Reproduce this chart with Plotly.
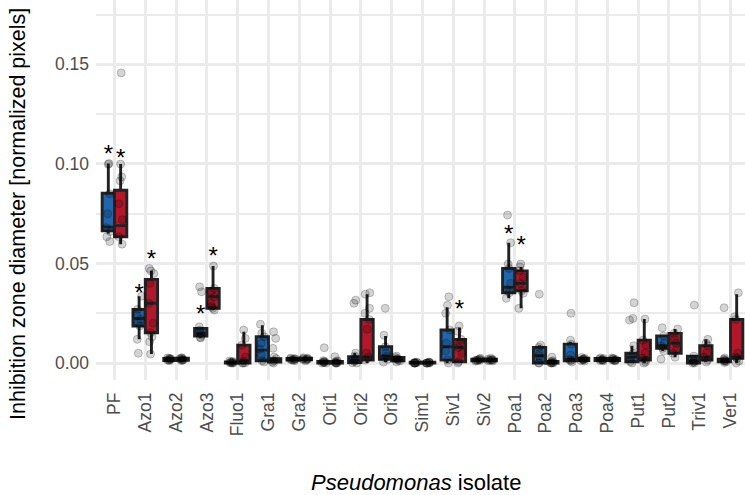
import plotly.graph_objects as go

isolates = ["PF", "Azo1", "Azo2", "Azo3", "Fluo1", "Gra1", "Gra2", "Ori1", "Ori2", "Ori3",
            "Sim1", "Siv1", "Siv2", "Poa1", "Poa2", "Poa3", "Poa4", "Put1", "Put2", "Triv1", "Ver1"]

# ---- box statistics, group 1 (blue) ----
blue_lower = [0.0650, 0.0119, 0.0010, 0.0126, 0.0000, 0.0005, 0.0012, 0.0000, 0.0000, 0.0005,
              0.0000, 0.0000, 0.0010, 0.0325, 0.0000, 0.0005, 0.0011, 0.0000, 0.0060, 0.0000, 0.0003]
blue_q1 = [0.0664, 0.0186, 0.0013, 0.0136, 0.0000, 0.0012, 0.0015, 0.0000, 0.0003, 0.0019,
           0.0000, 0.0015, 0.0012, 0.0353, 0.0000, 0.0012, 0.0013, 0.0007, 0.0074, 0.0000, 0.0007]
blue_median = [0.0684, 0.0224, 0.0018, 0.0150, 0.0002, 0.0065, 0.0019, 0.0003, 0.0012, 0.0035,
               0.0000, 0.0082, 0.0016, 0.0380, 0.0037, 0.0018, 0.0018, 0.0030, 0.0087, 0.0010, 0.0013]
blue_q3 = [0.0853, 0.0269, 0.0023, 0.0174, 0.0006, 0.0132, 0.0023, 0.0008, 0.0032, 0.0082,
           0.0004, 0.0166, 0.0020, 0.0475, 0.0079, 0.0095, 0.0023, 0.0049, 0.0136, 0.0035, 0.0020]
blue_upper = [0.1002, 0.0336, 0.0026, 0.0180, 0.0010, 0.0190, 0.0026, 0.0012, 0.0050, 0.0136,
              0.0005, 0.0280, 0.0024, 0.0604, 0.0090, 0.0107, 0.0026, 0.0087, 0.0140, 0.0040, 0.0026]

# ---- box statistics, group 2 (red) ----
red_lower = [0.0597, 0.0045, 0.0010, 0.0266, 0.0000, 0.0000, 0.0012, 0.0000, 0.0000, 0.0005,
             0.0000, 0.0000, 0.0010, 0.0275, 0.0000, 0.0010, 0.0011, 0.0000, 0.0029, 0.0005, 0.0000]
red_q1 = [0.0634, 0.0152, 0.0014, 0.0275, 0.0000, 0.0005, 0.0016, 0.0000, 0.0015, 0.0011,
          0.0000, 0.0007, 0.0012, 0.0363, 0.0000, 0.0013, 0.0013, 0.0015, 0.0049, 0.0015, 0.0024]
red_median = [0.0690, 0.0300, 0.0019, 0.0333, 0.0010, 0.0012, 0.0020, 0.0003, 0.0030, 0.0019,
              0.0000, 0.0078, 0.0016, 0.0400, 0.0002, 0.0019, 0.0018, 0.0025, 0.0099, 0.0030, 0.0030]
red_q3 = [0.0868, 0.0420, 0.0024, 0.0375, 0.0090, 0.0022, 0.0024, 0.0008, 0.0219, 0.0028,
          0.0004, 0.0119, 0.0020, 0.0463, 0.0008, 0.0024, 0.0023, 0.0115, 0.0149, 0.0087, 0.0219]
red_upper = [0.0999, 0.0463, 0.0027, 0.0487, 0.0157, 0.0030, 0.0027, 0.0012, 0.0346, 0.0035,
             0.0005, 0.0179, 0.0024, 0.0483, 0.0012, 0.0028, 0.0026, 0.0221, 0.0171, 0.0119, 0.0346]

# ---- individual measurements ----
blue_points = [
    [0.1002, 0.0998, 0.0850, 0.0750, 0.0680, 0.0660, 0.0610, 0.0634],
    [0.0336, 0.0270, 0.0240, 0.0220, 0.0200, 0.0186, 0.0119, 0.0049],
    [0.0012, 0.0015, 0.0018, 0.0020, 0.0022, 0.0024, 0.0016, 0.0026],
    [0.0383, 0.0358, 0.0182, 0.0165, 0.0152, 0.0140, 0.0130, 0.0126],
    [0.0000, 0.0000, 0.0002, 0.0004, 0.0006, 0.0008, 0.0010, 0.0001],
    [0.0195, 0.0150, 0.0132, 0.0100, 0.0070, 0.0040, 0.0012, 0.0005],
    [0.0012, 0.0015, 0.0018, 0.0020, 0.0022, 0.0025, 0.0016, 0.0021],
    [0.0000, 0.0000, 0.0002, 0.0004, 0.0006, 0.0008, 0.0012, 0.0077],
    [0.0000, 0.0002, 0.0008, 0.0012, 0.0020, 0.0035, 0.0050, 0.0316, 0.0300],
    [0.0275, 0.0140, 0.0082, 0.0050, 0.0035, 0.0025, 0.0019, 0.0005],
    [0.0000, 0.0000, 0.0000, 0.0000, 0.0002, 0.0004, 0.0005, 0.0000],
    [0.0333, 0.0290, 0.0250, 0.0166, 0.0100, 0.0060, 0.0015, 0.0000],
    [0.0010, 0.0012, 0.0014, 0.0016, 0.0018, 0.0020, 0.0024, 0.0015],
    [0.0743, 0.0604, 0.0497, 0.0475, 0.0400, 0.0370, 0.0353, 0.0325],
    [0.0346, 0.0090, 0.0079, 0.0050, 0.0037, 0.0020, 0.0000, 0.0000],
    [0.0250, 0.0115, 0.0095, 0.0040, 0.0018, 0.0012, 0.0005, 0.0015],
    [0.0011, 0.0013, 0.0015, 0.0018, 0.0020, 0.0023, 0.0026, 0.0016],
    [0.0303, 0.0224, 0.0216, 0.0087, 0.0049, 0.0030, 0.0007, 0.0000],
    [0.0177, 0.0136, 0.0100, 0.0087, 0.0074, 0.0060, 0.0020],
    [0.0291, 0.0035, 0.0020, 0.0010, 0.0005, 0.0000, 0.0000],
    [0.0278, 0.0026, 0.0020, 0.0015, 0.0010, 0.0007, 0.0003, 0.0012],
]
red_points = [
    [0.1457, 0.0999, 0.0935, 0.0915, 0.0800, 0.0720, 0.0634, 0.0597],
    [0.0475, 0.0463, 0.0450, 0.0400, 0.0300, 0.0200, 0.0152, 0.0132, 0.0107, 0.0045],
    [0.0012, 0.0015, 0.0018, 0.0020, 0.0022, 0.0025, 0.0027, 0.0016],
    [0.0487, 0.0375, 0.0360, 0.0333, 0.0300, 0.0283, 0.0275, 0.0266],
    [0.0166, 0.0124, 0.0090, 0.0030, 0.0010, 0.0000, 0.0000, 0.0000],
    [0.0157, 0.0124, 0.0074, 0.0030, 0.0022, 0.0012, 0.0005, 0.0000],
    [0.0012, 0.0016, 0.0018, 0.0020, 0.0022, 0.0024, 0.0027, 0.0020],
    [0.0000, 0.0000, 0.0002, 0.0005, 0.0008, 0.0012, 0.0032, 0.0000],
    [0.0353, 0.0346, 0.0275, 0.0250, 0.0219, 0.0170, 0.0050, 0.0030, 0.0015],
    [0.0035, 0.0028, 0.0022, 0.0019, 0.0015, 0.0011, 0.0005, 0.0020],
    [0.0000, 0.0000, 0.0000, 0.0000, 0.0002, 0.0004, 0.0005, 0.0000],
    [0.0186, 0.0160, 0.0119, 0.0100, 0.0078, 0.0050, 0.0007, 0.0000],
    [0.0010, 0.0012, 0.0014, 0.0016, 0.0018, 0.0020, 0.0024, 0.0015],
    [0.0497, 0.0483, 0.0463, 0.0430, 0.0400, 0.0363, 0.0350, 0.0275],
    [0.0030, 0.0012, 0.0008, 0.0004, 0.0002, 0.0000, 0.0000, 0.0000],
    [0.0010, 0.0013, 0.0016, 0.0019, 0.0021, 0.0024, 0.0028, 0.0018],
    [0.0011, 0.0013, 0.0015, 0.0018, 0.0020, 0.0023, 0.0026, 0.0016],
    [0.0221, 0.0115, 0.0090, 0.0050, 0.0025, 0.0015, 0.0005, 0.0000],
    [0.0171, 0.0149, 0.0120, 0.0099, 0.0070, 0.0049, 0.0029],
    [0.0119, 0.0100, 0.0087, 0.0050, 0.0030, 0.0015, 0.0005],
    [0.0353, 0.0232, 0.0219, 0.0050, 0.0030, 0.0024, 0.0010, 0.0000],
]

# ---- significance marks (height of the asterisk), None = no mark ----
blue_star = [0.1066, 0.0366, None, 0.0263, None, None, None, None, None, None,
             None, None, None, 0.0664, None, None, None, None, None, None, None]
red_star = [0.1044, 0.0537, None, 0.0551, None, None, None, None, None, None,
            None, 0.0286, None, 0.0609, None, None, None, None, None, None, None]

y_ticks = [0.00, 0.05, 0.10, 0.15]
y_tick_text = ["0.00", "0.05", "0.10", "0.15"]

BLUE = "#2166AC"
RED = "#B2182B"
EDGE = "#222222"
FONT = "Liberation Sans"

fig = go.Figure()
xpos = list(range(len(isolates)))

for name, col, lo, q1, med, q3, up in [
    ("blue", BLUE, blue_lower, blue_q1, blue_median, blue_q3, blue_upper),
    ("red", RED, red_lower, red_q1, red_median, red_q3, red_upper),
]:
    fig.add_trace(go.Box(
        x=xpos, q1=q1, median=med, q3=q3, lowerfence=lo, upperfence=up,
        offsetgroup=name, fillcolor=col, line=dict(color=EDGE, width=2.9),
        whiskerwidth=0, boxpoints=False, showlegend=False, hoverinfo="skip",
    ))

for name, pts in [("blue", blue_points), ("red", red_points)]:
    xs = [i for i, p in enumerate(pts) for _ in p]
    ys = [v for p in pts for v in p]
    fig.add_trace(go.Box(
        x=xs, y=ys, offsetgroup=name, boxpoints="all", jitter=0.45, pointpos=0,
        fillcolor="rgba(0,0,0,0)", line=dict(color="rgba(0,0,0,0)", width=0),
        whiskerwidth=0,
        marker=dict(color="rgba(0,0,0,0.17)", size=8,
                    line=dict(color="rgba(0,0,0,0.22)", width=1)),
        showlegend=False, hoverinfo="skip",
    ))

DODGE = 0.2
STAR_SHIFT = 0.0025  # glyph sits above text centre
for stars, sign in [(blue_star, -1), (red_star, 1)]:
    sx = [i + sign * DODGE for i, s in enumerate(stars) if s is not None]
    sy = [s - STAR_SHIFT for s in stars if s is not None]
    fig.add_trace(go.Scatter(
        x=sx, y=sy, mode="text", text=["*"] * len(sx), textposition="middle center",
        textfont=dict(family=FONT, size=24, color="#000000"),
        showlegend=False, hoverinfo="skip",
    ))

fig.update_layout(
    width=745, height=495,
    margin=dict(l=96, r=0, t=0, b=115, pad=0),
    paper_bgcolor="white", plot_bgcolor="white",
    boxmode="group", boxgap=0.2, boxgroupgap=0,
    font=dict(family=FONT, color="#4D4D4D"),
    showlegend=False,
    xaxis=dict(
        range=[-0.6, 20.47], tickmode="array", tickvals=xpos, ticktext=isolates,
        tickangle=-90, tickfont=dict(size=17.5, color="#4D4D4D", family=FONT),
        showgrid=True, gridcolor="#EBEBEB", gridwidth=2.5,
        zeroline=False, showline=False, ticks="", ticklabelstandoff=8,
    ),
    yaxis=dict(
        range=[-0.0085, 0.1823], tickmode="array", tickvals=y_ticks, ticktext=y_tick_text,
        tickfont=dict(size=17.5, color="#4D4D4D", family=FONT),
        showgrid=True, gridcolor="#EBEBEB", gridwidth=2.5,
        minor=dict(dtick=0.025, tick0=0, showgrid=True, gridcolor="#EBEBEB", gridwidth=1.8),
        zeroline=False, showline=False, ticks="", ticklabelstandoff=6,
    ),
    annotations=[
        dict(text="Inhibition zone diameter [normalized pixels]", textangle=-90,
             xref="paper", yref="paper", x=0, xshift=-78, y=(380 - 214) / 380,
             xanchor="center", yanchor="middle", showarrow=False,
             font=dict(family=FONT, size=21.5, color="#000000")),
        dict(text="<i>Pseudomonas</i> isolate",
             xref="paper", yref="paper", x=(416 - 96) / 649, y=(380 - 482) / 380,
             xanchor="center", yanchor="middle", showarrow=False,
             font=dict(family=FONT, size=22, color="#000000")),
    ],
)

fig.write_html("out.html")
